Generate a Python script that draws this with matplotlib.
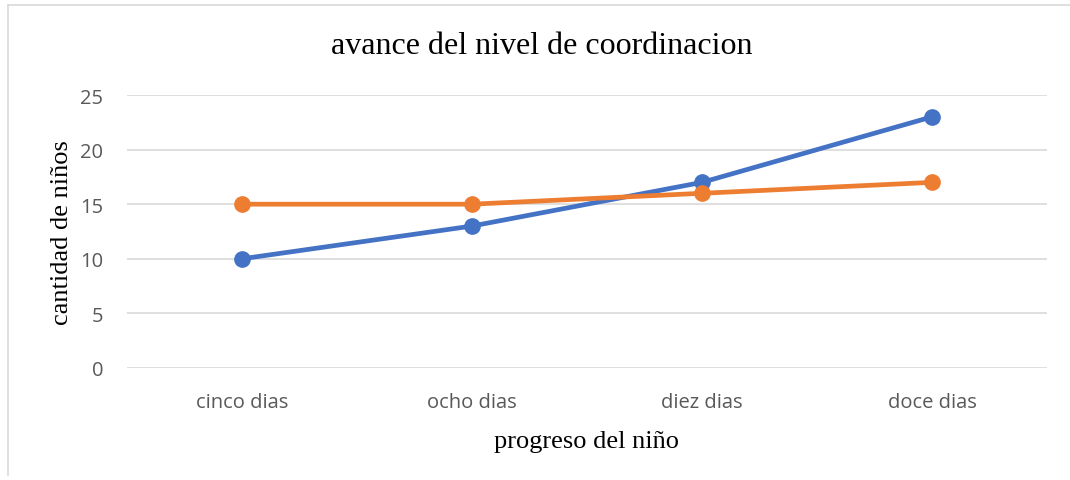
import matplotlib
matplotlib.use("Agg")
import matplotlib.pyplot as plt
from matplotlib.lines import Line2D

categorias = ["cinco dias", "ocho dias", "diez dias", "doce dias"]
serie_azul = [10, 13, 17, 23]
serie_naranja = [15, 15, 16, 17]
ticks_y = [0, 5, 10, 15, 20, 25]

fig = plt.figure(figsize=(10.70, 4.81), dpi=100)
ax = fig.add_axes([127 / 1070, 1 - 369 / 481, 920 / 1070, 273 / 481])

x = list(range(len(categorias)))
ax.plot(x, serie_azul, color="#4472C4", lw=3.4, marker="o", ms=11, zorder=3)
ax.plot(x, serie_naranja, color="#ED7D31", lw=3.4, marker="o", ms=11, zorder=3)

ax.set_xlim(-0.5, len(categorias) - 0.5)
ax.set_ylim(0, 25)
ax.set_yticks(ticks_y)
ax.set_xticks(x)
ax.set_xticklabels(categorias)
ax.grid(axis="y", color="#D9D9D9", lw=1.2)
ax.set_axisbelow(True)
for s in ax.spines.values():
    s.set_visible(False)
ax.tick_params(length=0, labelsize=14.5, labelcolor="#595959")
ax.tick_params(axis="x", pad=17)
ax.tick_params(axis="y", pad=17)
for lab in ax.get_xticklabels() + ax.get_yticklabels():
    lab.set_family("Open Sans")

ax.set_xlabel("progreso del niño", family="Liberation Serif", fontsize=19, labelpad=13)
ax.set_ylabel("cantidad de niños", family="Liberation Serif", fontsize=19, labelpad=5)
fig.text(542 / 1070, 1 - 47 / 481, "avance del nivel de coordinacion",
         family="Liberation Serif", fontsize=23, ha="center", va="center")

# marco del grafico (solo visible arriba e izquierda)
fig.add_artist(Line2D([8 / 1070, 8 / 1070], [1 - 476 / 481, 1 - 6 / 481],
                      transform=fig.transFigure, color="#D9D9D9", lw=1.2))
fig.add_artist(Line2D([8 / 1070, 1], [1 - 6 / 481, 1 - 6 / 481],
                      transform=fig.transFigure, color="#D9D9D9", lw=1.2))

fig.savefig("out.png", dpi=100)
